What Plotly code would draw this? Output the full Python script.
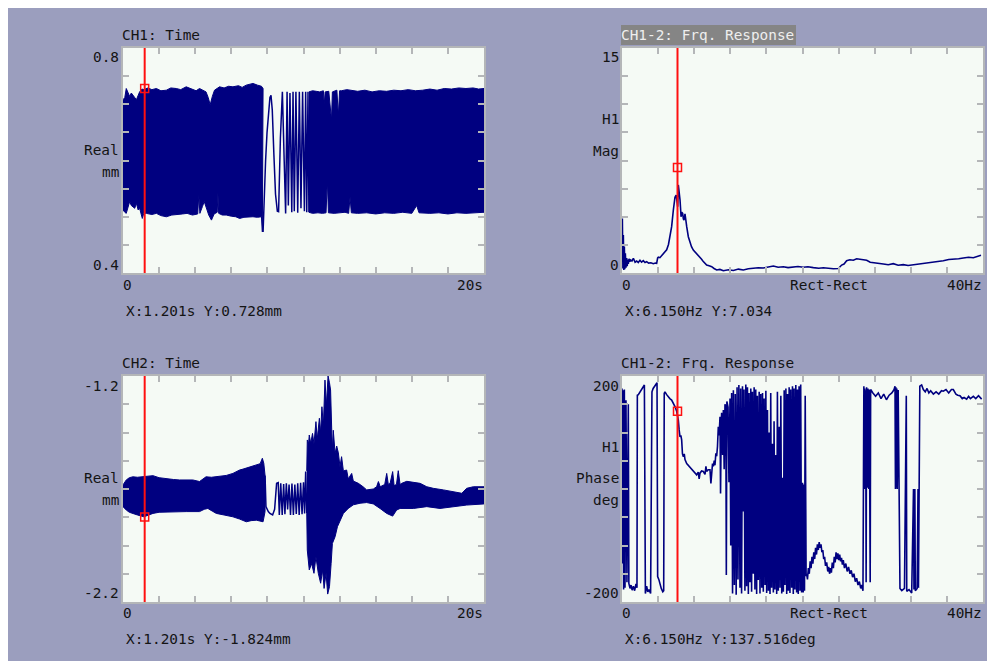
import plotly.graph_objects as go

# ---------------- data ----------------
# CH1 time signal (mm): dense band envelope + sparse zig-zag part
ch1_up1_t = [0.00, 0.10, 0.18, 0.28, 0.37, 0.46, 0.55, 0.65, 0.74, 0.84, 0.92, 1.05, 1.16, 1.38, 1.60, 1.85, 2.10, 2.40, 2.65, 2.95, 3.20, 3.50, 3.80, 4.05, 4.24, 4.45, 4.60, 4.72, 4.83, 4.95, 5.07, 5.35, 5.60, 5.85, 6.09, 6.40, 6.60, 6.83, 7.00, 7.20, 7.45, 7.67, 7.76]
ch1_up1_v = [0.708, 0.712, 0.728, 0.722, 0.714, 0.720, 0.717, 0.712, 0.708, 0.716, 0.722, 0.727, 0.726, 0.729, 0.726, 0.728, 0.724, 0.725, 0.729, 0.728, 0.726, 0.731, 0.727, 0.724, 0.728, 0.725, 0.722, 0.712, 0.699, 0.714, 0.725, 0.731, 0.729, 0.732, 0.731, 0.733, 0.730, 0.734, 0.735, 0.737, 0.734, 0.732, 0.728]
ch1_lo1_t = [0.00, 0.10, 0.18, 0.28, 0.37, 0.46, 0.55, 0.65, 0.74, 0.84, 0.92, 1.00, 1.07, 1.15, 1.29, 1.60, 1.85, 2.10, 2.40, 2.70, 3.00, 3.30, 3.55, 3.85, 4.14, 4.20, 4.26, 4.40, 4.50, 4.60, 4.75, 4.90, 5.05, 5.22, 5.26, 5.30, 5.50, 5.72, 6.00, 6.25, 6.46, 6.70, 6.95, 7.20, 7.45, 7.67, 7.72, 7.76]
ch1_lo1_v = [0.512, 0.508, 0.506, 0.516, 0.527, 0.520, 0.518, 0.515, 0.524, 0.512, 0.515, 0.505, 0.497, 0.506, 0.506, 0.504, 0.506, 0.502, 0.500, 0.503, 0.504, 0.505, 0.506, 0.503, 0.505, 0.539, 0.506, 0.518, 0.527, 0.518, 0.503, 0.494, 0.505, 0.508, 0.542, 0.506, 0.503, 0.503, 0.501, 0.500, 0.497, 0.499, 0.500, 0.500, 0.499, 0.500, 0.473, 0.505]
ch1_sp_t = [7.76, 7.82, 7.90, 7.98, 8.06, 8.14, 8.20, 8.27, 8.36, 8.45, 8.55, 8.62, 8.72, 8.83, 8.93, 9.01, 9.09, 9.16, 9.25, 9.35, 9.42, 9.49, 9.58, 9.68, 9.77, 9.86, 9.95, 10.05, 10.12, 10.18, 10.25, 10.30]
ch1_sp_v = [0.473, 0.540, 0.600, 0.650, 0.690, 0.712, 0.716, 0.690, 0.610, 0.540, 0.510, 0.509, 0.640, 0.722, 0.600, 0.506, 0.722, 0.520, 0.720, 0.508, 0.722, 0.510, 0.722, 0.507, 0.722, 0.515, 0.722, 0.510, 0.722, 0.508, 0.722, 0.508]
ch1_up2_t = [10.30, 10.50, 10.70, 10.90, 11.10, 11.15, 11.20, 11.40, 11.55, 11.60, 11.85, 11.93, 12.00, 12.10, 12.40, 12.70, 13.00, 13.40, 13.80, 14.20, 14.60, 15.00, 15.40, 15.80, 16.20, 16.60, 17.00, 17.40, 17.80, 18.20, 18.60, 19.00, 19.40, 19.70, 20.00]
ch1_up2_v = [0.722, 0.724, 0.723, 0.722, 0.724, 0.700, 0.722, 0.723, 0.672, 0.722, 0.725, 0.680, 0.724, 0.724, 0.726, 0.724, 0.723, 0.725, 0.722, 0.724, 0.723, 0.725, 0.724, 0.726, 0.724, 0.725, 0.727, 0.725, 0.728, 0.727, 0.729, 0.728, 0.729, 0.727, 0.728]
ch1_lo2_t = [10.30, 10.50, 10.80, 11.05, 11.25, 11.32, 11.38, 11.70, 12.00, 12.30, 12.50, 12.58, 12.65, 13.00, 13.50, 14.00, 14.50, 15.00, 15.50, 16.00, 16.27, 16.40, 17.00, 17.50, 18.00, 18.50, 19.00, 19.50, 20.00]
ch1_lo2_v = [0.508, 0.506, 0.507, 0.506, 0.507, 0.566, 0.507, 0.506, 0.507, 0.508, 0.506, 0.535, 0.507, 0.506, 0.507, 0.505, 0.507, 0.506, 0.508, 0.506, 0.520, 0.507, 0.506, 0.507, 0.505, 0.507, 0.506, 0.507, 0.508]

# CH2 time signal (mm)
ch2_up1_t = [0.00, 0.10, 0.18, 0.35, 0.55, 0.80, 1.16, 1.40, 1.66, 2.00, 2.40, 2.80, 3.13, 3.50, 3.87, 4.24, 4.45, 4.60, 4.90, 5.17, 5.45, 5.72, 6.09, 6.30, 6.46, 6.65, 6.83, 7.10, 7.39, 7.60, 7.72, 7.80, 7.87]
ch2_up1_v = [-1.682, -1.670, -1.660, -1.650, -1.646, -1.648, -1.646, -1.643, -1.641, -1.650, -1.655, -1.658, -1.660, -1.659, -1.660, -1.667, -1.655, -1.646, -1.648, -1.646, -1.642, -1.640, -1.631, -1.622, -1.616, -1.612, -1.608, -1.600, -1.594, -1.588, -1.564, -1.586, -1.640]
ch2_lo1_t = [0.00, 0.18, 0.35, 0.55, 0.80, 1.16, 1.40, 1.66, 2.00, 2.40, 3.00, 3.50, 4.24, 4.50, 4.70, 4.95, 5.17, 5.60, 6.09, 6.46, 6.83, 7.10, 7.39, 7.60, 7.76, 7.87]
ch2_lo1_v = [-1.778, -1.793, -1.803, -1.808, -1.815, -1.823, -1.815, -1.808, -1.803, -1.800, -1.801, -1.800, -1.800, -1.790, -1.786, -1.798, -1.808, -1.815, -1.823, -1.833, -1.845, -1.840, -1.838, -1.843, -1.845, -1.800]
ch2_sp_t = [7.87, 7.92, 8.05, 8.14, 8.29, 8.40, 8.51, 8.60, 8.66, 8.74, 8.82, 8.90, 8.97, 9.05, 9.12, 9.20, 9.28, 9.36, 9.44, 9.52, 9.60, 9.68, 9.76, 9.84, 9.92, 10.00, 10.06, 10.12, 10.18]
ch2_sp_v = [-1.640, -1.778, -1.800, -1.808, -1.815, -1.790, -1.675, -1.672, -1.815, -1.675, -1.815, -1.678, -1.812, -1.675, -1.790, -1.680, -1.815, -1.676, -1.815, -1.680, -1.810, -1.675, -1.815, -1.672, -1.812, -1.670, -1.808, -1.623, -1.808]
ch2_up2_t = [10.18, 10.21, 10.28, 10.32, 10.40, 10.50, 10.58, 10.69, 10.76, 10.88, 10.95, 11.02, 11.10, 11.19, 11.27, 11.36, 11.44, 11.50, 11.56, 11.60, 11.65, 11.75, 11.84, 11.93, 12.02, 12.11, 12.21, 12.39, 12.48, 12.67, 12.76, 13.04, 13.30, 13.50, 13.87, 14.05, 14.15, 14.25, 14.50, 14.61, 14.70, 14.80, 14.94, 15.02, 15.15, 15.25, 15.35, 15.44, 15.72, 16.09, 16.46, 16.83, 17.19, 17.75, 18.30, 18.77, 19.04, 19.41, 20.00]
ch2_up2_v = [-1.620, -1.483, -1.500, -1.461, -1.498, -1.454, -1.500, -1.402, -1.480, -1.387, -1.450, -1.336, -1.420, -1.218, -1.330, -1.200, -1.230, -1.262, -1.430, -1.527, -1.440, -1.542, -1.510, -1.540, -1.600, -1.557, -1.620, -1.616, -1.655, -1.631, -1.665, -1.675, -1.690, -1.704, -1.700, -1.690, -1.667, -1.690, -1.680, -1.631, -1.680, -1.675, -1.623, -1.685, -1.680, -1.619, -1.680, -1.675, -1.666, -1.670, -1.675, -1.690, -1.697, -1.704, -1.711, -1.719, -1.697, -1.690, -1.690]
ch2_lo2_t = [10.18, 10.21, 10.32, 10.45, 10.58, 10.69, 10.82, 10.95, 11.06, 11.14, 11.25, 11.34, 11.44, 11.53, 11.60, 11.75, 11.88, 12.02, 12.21, 12.48, 12.76, 13.13, 13.50, 13.87, 14.24, 14.61, 14.94, 15.16, 15.35, 16.09, 16.83, 17.56, 18.30, 19.04, 20.00]
ch2_lo2_v = [-1.808, -1.970, -2.058, -2.030, -2.073, -2.000, -2.073, -2.117, -2.058, -2.140, -2.073, -2.165, -2.132, -2.030, -1.941, -1.911, -1.867, -1.838, -1.808, -1.786, -1.770, -1.763, -1.760, -1.766, -1.786, -1.808, -1.820, -1.793, -1.786, -1.786, -1.778, -1.786, -1.778, -1.771, -1.766]

# CH1-2 frequency response magnitude (H1)
mag_f = [0.04, 0.10, 0.15, 0.20, 0.26, 0.31, 0.37, 0.44, 0.52, 0.58, 0.63, 0.70, 0.78, 0.87, 0.96, 1.10, 1.26, 1.45, 1.63, 1.80, 1.99, 2.17, 2.36, 2.55, 2.73, 2.95, 3.20, 3.47, 3.70, 3.84, 3.95, 4.03, 4.20, 4.40, 4.58, 4.78, 4.95, 5.15, 5.32, 5.50, 5.69, 5.87, 6.00, 6.06, 6.17, 6.24, 6.30, 6.35, 6.43, 6.50, 6.54, 6.62, 6.72, 6.80, 6.87, 6.98, 7.08, 7.17, 7.35, 7.53, 7.70, 7.90, 8.10, 8.27, 8.45, 8.64, 8.82, 9.01, 9.20, 9.38, 9.65, 9.94, 10.2, 10.49, 10.85, 11.23, 11.8, 12.34, 12.9, 13.44, 14.0, 14.55, 15.1, 15.66, 16.2, 16.77, 17.3, 17.88, 18.4, 18.98, 19.5, 20.09, 20.6, 21.20, 21.8, 22.31, 22.9, 23.42, 23.97, 24.34, 24.60, 24.89, 25.25, 25.63, 26.0, 26.37, 26.75, 27.11, 27.5, 27.85, 28.4, 28.96, 29.5, 30.06, 30.6, 31.17, 31.7, 32.28, 32.8, 33.39, 33.9, 34.50, 35.0, 35.60, 36.2, 36.71, 37.3, 37.82, 38.4, 38.93, 39.4, 39.78]
mag_v = [3.64, 0.30, 2.53, 0.20, 1.76, 0.25, 1.31, 0.35, 1.00, 0.45, 0.90, 0.60, 0.95, 0.75, 0.87, 0.80, 0.98, 0.72, 0.80, 0.70, 0.85, 0.72, 0.82, 0.70, 0.76, 0.66, 0.68, 0.62, 0.66, 0.64, 1.00, 1.05, 1.02, 1.18, 1.31, 1.42, 1.55, 1.90, 2.42, 3.09, 4.20, 5.05, 5.20, 5.00, 4.42, 5.87, 5.60, 5.31, 4.87, 4.20, 3.75, 4.05, 3.98, 3.60, 3.53, 3.95, 3.40, 3.09, 2.42, 1.98, 1.75, 1.53, 1.40, 1.31, 1.15, 1.09, 0.92, 0.76, 0.62, 0.53, 0.48, 0.42, 0.30, 0.20, 0.24, 0.15, 0.22, 0.17, 0.26, 0.20, 0.28, 0.31, 0.35, 0.33, 0.42, 0.47, 0.38, 0.42, 0.36, 0.40, 0.43, 0.38, 0.42, 0.36, 0.32, 0.35, 0.30, 0.28, 0.30, 0.53, 0.60, 0.82, 0.88, 0.85, 0.95, 0.91, 0.86, 0.85, 0.72, 0.68, 0.62, 0.60, 0.55, 0.62, 0.52, 0.56, 0.50, 0.55, 0.58, 0.62, 0.65, 0.71, 0.75, 0.82, 0.90, 0.91, 0.95, 1.00, 1.05, 1.02, 1.12, 1.18]

# CH1-2 frequency response phase (deg)
ph_f = [0.00, 0.04, 0.10, 0.18, 0.26, 0.33, 0.44, 0.55, 0.70, 0.76, 0.89, 1.00, 1.12, 1.26, 1.40, 1.55, 1.66, 1.70, 1.81, 2.00, 2.18, 2.32, 2.48, 2.59, 2.73, 2.86, 2.99, 3.17, 3.32, 3.45, 3.58, 3.75, 3.88, 3.95, 4.08, 4.22, 4.35, 4.52, 4.62, 4.68, 4.76, 4.95, 5.13, 5.30, 5.50, 5.70, 5.87, 6.06, 6.15, 6.24, 6.33, 6.43, 6.52, 6.61, 6.70, 6.80, 6.90, 6.98, 7.17, 7.35, 7.53, 7.70, 7.90, 8.10, 8.27, 8.45, 8.55, 8.64, 8.82, 9.01, 9.20, 9.30, 9.38, 9.55, 9.75, 9.85, 9.94, 10.03, 10.12, 10.22, 10.30, 10.40, 10.49, 10.58, 10.67, 10.76, 10.86, 10.92, 11.00, 11.04, 11.15, 11.23, 11.32, 11.41, 11.50, 11.56, 11.62, 11.75, 11.85, 11.97, 12.05, 12.15, 12.25, 12.34, 12.45, 12.55, 12.65, 12.75, 12.85, 12.95, 13.07, 13.15, 13.25, 13.35, 13.44, 13.52, 13.62, 13.72, 13.81, 13.90, 14.00, 14.08, 14.18, 14.27, 14.36, 14.45, 14.55, 14.64, 14.73, 14.82, 14.92, 15.00, 15.10, 15.20, 15.29, 15.38, 15.48, 15.57, 15.66, 15.75, 15.85, 15.94, 16.03, 16.12, 16.22, 16.30, 16.40, 16.48, 16.58, 16.66, 16.77, 16.85, 16.95, 17.05, 17.14, 17.22, 17.32, 17.42, 17.51, 17.60, 17.70, 17.80, 17.88, 17.97, 18.06, 18.16, 18.25, 18.34, 18.43, 18.52, 18.61, 18.70, 18.80, 18.89, 18.98, 19.07, 19.16, 19.26, 19.35, 19.44, 19.53, 19.62, 19.72, 19.80, 19.90, 20.00, 20.08, 20.15, 20.22, 20.30, 20.40, 20.46, 20.55, 20.65, 20.75, 20.85, 20.95, 21.05, 21.15, 21.25, 21.35, 21.45, 21.55, 21.65, 21.75, 21.85, 21.94, 22.05, 22.15, 22.25, 22.35, 22.45, 22.55, 22.68, 22.80, 22.90, 23.00, 23.10, 23.20, 23.30, 23.42, 23.52, 23.62, 23.72, 23.82, 23.92, 24.02, 24.12, 24.22, 24.32, 24.42, 24.52, 24.65, 24.80, 24.95, 25.10, 25.26, 25.40, 25.55, 25.70, 25.85, 26.00, 26.15, 26.30, 26.45, 26.56, 26.70, 26.80, 26.85, 26.90, 26.95, 27.00, 27.05, 27.10, 27.20, 27.25, 27.35, 27.40, 27.50, 27.55, 27.80, 28.10, 28.40, 28.70, 29.00, 29.30, 29.60, 29.90, 30.15, 30.25, 30.30, 30.35, 30.40, 30.45, 30.50, 30.60, 30.70, 30.80, 31.00, 31.30, 31.50, 31.55, 31.80, 32.10, 32.30, 32.35, 32.45, 32.50, 32.70, 32.80, 32.85, 32.95, 33.00, 33.20, 33.39, 33.60, 33.80, 34.00, 34.20, 34.50, 34.80, 35.10, 35.40, 35.60, 35.90, 36.20, 36.50, 36.71, 37.00, 37.20, 37.45, 37.70, 37.90, 38.19, 38.40, 38.60, 38.93, 39.20, 39.50, 39.85]
ph_v = [178, -132, 175, -178, 176, -175, 157, -165, 150, -167, -176, -170, -179, -172, -180, -168, -175, 166, 167, 172, 176, 181, 184, -185, -172, -182, -178, -185, 172, 178, 182, 185, 188, -155, -160, -170, -176, -182, -180, 169, 172, 167, 163, 160, 157.5, 152, 146, 137.5, 130, 122, 105, 92, 95, 87, 62, 57, 62, 52, 45, 42, 39, 36, 31, 28, 25, 30, 18, 28, 32, 31, 26, 40, 31, 34, 34, 10, 30, 45, 40, 50, 42, 63, 58, 75, 110, 95, 128, -8, 120, 135, 60, 140, 35, 150, 145, -152, 155, 145, 12, 160, -100, 170, -185, 175, -170, 168, -187, 180, -160, 184, -175, 178, -185, 182, -40, 176, -180, 185, -172, 180, -186, 170, -165, 178, -182, 172, -150, 180, -178, 176, -186, 165, -161, 172, -185, 168, -175, 170, -182, 160, -170, 174, -184, 140, -180, 100, -186, 170, -175, 80, -183, 120, -178, 60, -186, 172, -180, 110, -175, 165, -185, 20, -182, 175, -170, 178, -186, 168, -180, 180, -184, 176, -175, 182, -186, 178, -178, 184, -183, 176, -186, 182, -180, 185, -183, 11, -183, 8, -180, 165, -154, -150, -160, -140, -150, -128, -140, -120, -132, -112, -124, -104, -116, -98, -108, -94, -104, -98, -112, -108, -124, -120, -136, -130, -146, -138, -150, -140, -148, -130, -140, -120, -130, -112, -124, -114, -126, -116, -128, -122, -134, -126, -140, -132, -146, -138, -150, -144, -156, -150, -164, -158, -170, -164, -176, -170, -180, 182, 0, 178, 2, 175, -165, 180, 2, 178, 0, 176, -165, 176, 170, 164, 170, 160, 168, 158, 166, 170, 176, 182, 0, 180, 2, 178, 0, 175, 5, -176, -180, -176, 165, -181, -178, -184, 0, -178, 0, -180, -176, 0, -175, 2, 182, 184, 176, 172, 178, 170, 174, 168, 172, 168, 174, 173, 176, 170, 176, 176, 168, 166, 165, 160, 162, 159, 164, 160, 164, 160, 165, 159]

# cursor readouts
cursor_t = 1.201
cursor_f = 6.150
ch1_read = 0.728
ch2_read = -1.824
mag_read = 7.034
ph_read = 137.516

# axis ranges
rng_t = [0, 20]
rng_f = [0, 40]
rng_ch1 = [0.4, 0.8]
rng_ch2 = [-2.2, -1.2]
rng_mag = [0, 15]
rng_ph = [-200, 200]

# ---------------- figure ----------------
W, H = 995, 661
OFF = 8  # the page body margin shifts the figure by 8 px
NAVY = "#000080"
RED = "#ff1010"
BG = "#9b9ebe"
PLOT_BG = "#f5faf5"
FRAME = "#b4b6b8"
TXT = "#141414"
FONT = "DejaVu Sans Mono"
FS = 14.4


def fx(p):
    return (p - OFF) / W


def fy(p):
    return 1 - (p - OFF) / H


# panel pixel boxes in screen coordinates (left, right, top, bottom)
boxes = {
    1: (123, 484, 48, 273),
    2: (622, 983, 48, 273),
    3: (123, 484, 376, 602),
    4: (622, 983, 376, 602),
}

fig = go.Figure()


def ax_ids(n):
    return ("x" if n == 1 else f"x{n}"), ("y" if n == 1 else f"y{n}")


def band(n, ut, uv, lt, lv):
    xa, ya = ax_ids(n)
    fig.add_trace(go.Scatter(
        x=list(ut) + list(lt)[::-1], y=list(uv) + list(lv)[::-1],
        xaxis=xa, yaxis=ya, mode="lines", fill="toself",
        fillcolor=NAVY, line=dict(color=NAVY, width=1), hoverinfo="skip"))


def line(n, xs, ys, w=1.5):
    xa, ya = ax_ids(n)
    fig.add_trace(go.Scatter(x=xs, y=ys, xaxis=xa, yaxis=ya, mode="lines",
                             line=dict(color=NAVY, width=w), hoverinfo="skip"))


def cursor(n, c, yr, val):
    xa, ya = ax_ids(n)
    fig.add_trace(go.Scatter(x=[c, c], y=yr, xaxis=xa, yaxis=ya, mode="lines",
                             line=dict(color=RED, width=2), hoverinfo="skip"))
    fig.add_trace(go.Scatter(x=[c], y=[val], xaxis=xa, yaxis=ya, mode="markers",
                             marker=dict(symbol="square-open", size=8,
                                         color=RED, line=dict(width=1.5, color=RED)),
                             hoverinfo="skip"))


# panel 1
band(1, ch1_up1_t, ch1_up1_v, ch1_lo1_t, ch1_lo1_v)
line(1, ch1_sp_t, ch1_sp_v)
band(1, ch1_up2_t, ch1_up2_v, ch1_lo2_t, ch1_lo2_v)
cursor(1, cursor_t, rng_ch1, ch1_read)
# panel 2
line(2, mag_f, mag_v, 1.6)
cursor(2, cursor_f, rng_mag, mag_read)
# panel 3
band(3, ch2_up1_t, ch2_up1_v, ch2_lo1_t, ch2_lo1_v)
line(3, ch2_sp_t, ch2_sp_v)
band(3, ch2_up2_t, ch2_up2_v, ch2_lo2_t, ch2_lo2_v)
cursor(3, cursor_t, rng_ch2, ch2_read)
# panel 4
line(4, ph_f, ph_v, 1.6)
cursor(4, cursor_f, rng_ph, ph_read)

xr = {1: rng_t, 2: rng_f, 3: rng_t, 4: rng_f}
yr = {1: rng_ch1, 2: rng_mag, 3: rng_ch2, 4: rng_ph}
ydiv = 8
xdiv = 10

layout = dict(width=W, height=H, autosize=False,
              margin=dict(l=0, r=0, t=0, b=0),
              paper_bgcolor=BG, plot_bgcolor=PLOT_BG, showlegend=False,
              font=dict(family=FONT, size=FS, color=TXT))

for n, (l, r, t, b) in boxes.items():
    xs = "xaxis" if n == 1 else f"xaxis{n}"
    ys = "yaxis" if n == 1 else f"yaxis{n}"
    xa, ya = ax_ids(n)
    common = dict(showgrid=False, zeroline=False, showticklabels=False,
                  ticks="inside", ticklen=6, tickwidth=1.5, tickcolor=FRAME,
                  showline=True, linecolor=FRAME, linewidth=2, mirror="ticks",
                  fixedrange=True)
    layout[xs] = dict(domain=[fx(l), fx(r)], range=xr[n], anchor=ya,
                      tick0=xr[n][0], dtick=(xr[n][1] - xr[n][0]) / xdiv, **common)
    layout[ys] = dict(domain=[fy(b), fy(t)], range=yr[n], anchor=xa,
                      tick0=yr[n][0], dtick=(yr[n][1] - yr[n][0]) / ydiv, **common)

fig.update_layout(**layout)

anns = []


def txt(s, x, y, xanchor="left", color=TXT):
    anns.append(dict(text=s, x=fx(x), y=fy(y), xref="paper", yref="paper",
                     xanchor=xanchor, yanchor="middle", showarrow=False,
                     font=dict(family=FONT, size=FS, color=color)))


# titles
txt("CH1: Time", 120, 35)
txt("CH1-2: Frq. Response", 619, 35, color="#eeeeee")
txt("CH2: Time", 120, 363)
txt("CH1-2: Frq. Response", 619, 363)

# y labels
txt(f"{rng_ch1[1]:g}", 121, 57, "right")
txt("Real", 121, 150, "right")
txt("mm", 121, 172, "right")
txt(f"{rng_ch1[0]:g}", 121, 265, "right")

txt(f"{rng_mag[1]:g}", 621, 57, "right")
txt("H1", 621, 119, "right")
txt("Mag", 621, 151, "right")
txt(f"{rng_mag[0]:g}", 621, 265, "right")

txt(f"{rng_ch2[1]:g}", 121, 386, "right")
txt("Real", 121, 478, "right")
txt("mm", 121, 500, "right")
txt(f"{rng_ch2[0]:g}", 121, 593, "right")

txt(f"{rng_ph[1]:g}", 621, 386, "right")
txt("H1", 621, 447, "right")
txt("Phase", 621, 478, "right")
txt("deg", 621, 500, "right")
txt(f"{rng_ph[0]:g}", 621, 593, "right")

# x labels
for yy in (285, 613):
    txt("0", 121, yy)
    txt("20s", 485, yy, "right")
    txt("0", 620, yy)
    txt("Rect-Rect", 829, yy, "center")
    txt("40Hz", 984, yy, "right")

# readouts
txt(f"X:{cursor_t:.3f}s Y:{ch1_read:.3f}mm", 124, 311)
txt(f"X:{cursor_f:.3f}Hz Y:{mag_read:.3f}", 623, 311)
txt(f"X:{cursor_t:.3f}s Y:{ch2_read:.3f}mm", 124, 639)
txt(f"X:{cursor_f:.3f}Hz Y:{ph_read:.3f}deg", 623, 639)

shapes = [
    dict(type="rect", xref="paper", yref="paper", x0=fx(621), x1=fx(796),
         y0=fy(45), y1=fy(25), fillcolor="#858585", line=dict(width=0),
         layer="below"),
]

fig.update_layout(annotations=anns, shapes=shapes)
fig.write_html("out.html", config={"displayModeBar": False})
